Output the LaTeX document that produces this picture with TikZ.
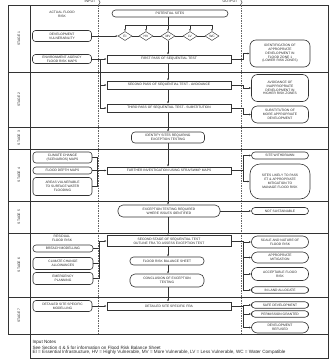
\documentclass[tikz,border=0pt]{standalone}
\usepackage{fontspec}
\setmainfont{Liberation Sans}
\usetikzlibrary{shapes.geometric,arrows.meta,decorations.pathreplacing}
\begin{document}
\begin{tikzpicture}[x=1pt,y=-1pt,
  every node/.style={font=\fontsize{3.3}{3.8}\selectfont, inner sep=0.4pt, align=center, text=black!85},
  frameline/.style={line width=0.6pt, draw=black!80},
  divline/.style={line width=0.35pt, draw=black!60, dashed, dash pattern=on 1.5pt off 1pt},
  conn/.style={line width=0.45pt, draw=black!80},
  arr/.style={conn, -{Latex[length=2pt,width=1.8pt]}},
  ibox/.style={draw=black!80, line width=0.6pt, rounded corners=3pt},
  pbox/.style={draw=black!80, line width=0.6pt},
  pill/.style={draw=black!80, line width=0.6pt, rounded corners=3.5pt},
  obox/.style={draw=black!80, line width=0.6pt, rounded corners=6pt},
  dia/.style={draw=black!80, line width=0.45pt, diamond, aspect=1.4, inner sep=0pt, minimum width=14pt, minimum height=9pt},
  stagelbl/.style={rotate=90, font=\fontsize{3.4}{4}\selectfont},
  foot/.style={anchor=west, font=\fontsize{4.6}{5}\selectfont}
]
\useasboundingbox (0,0) rectangle (333,360);

% ---------- header ----------
\node[anchor=east, font=\fontsize{3.6}{4}\selectfont] (hin) at (96,1.6) {INPUT};
\node[anchor=east, font=\fontsize{3.6}{4}\selectfont] (hout) at (238,1.6) {OUTPUT};
\draw[conn, decorate, decoration={brace, amplitude=1.6pt}] (98.5,-0.5) -- (98.5,5);
\draw[conn, decorate, decoration={brace, amplitude=1.6pt}] (240.5,-0.5) -- (240.5,5);

% ---------- frame and grid ----------
\draw[frameline] (8,5) rectangle (328,334);
\draw[frameline] (30,5) -- (30,334);
\draw[divline] (98,5) -- (98,334);
\draw[divline] (241,5) -- (241,334);
\foreach \yy in {72,127,149,201,233,297} {\draw[frameline] (8,\yy) -- (328,\yy);}

% stage labels
\node[stagelbl] (s1) at (19,38.5) {STAGE 1};
\node[stagelbl] (s2) at (19,99.5) {STAGE 2};
\node[stagelbl] (s3) at (19,138) {STAGE 3};
\node[stagelbl] (s4) at (19,175) {STAGE 4};
\node[stagelbl] (s5) at (19,217) {STAGE 5};
\node[stagelbl] (s6) at (19,265) {STAGE 6};
\node[stagelbl] (s7) at (19,315.5) {STAGE 7};

% ---------- stage 1 ----------
\node (afr) at (62,14) {ACTUAL FLOOD\\RISK};
\node[ibox, minimum width=59pt, minimum height=11pt] (dv) at (62,36) {DEVELOPMENT\\VULNERABILITY};
\node[ibox, minimum width=59pt, minimum height=9pt] (ea) at (62,59) {ENVIRONMENT AGENCY\\FLOOD RISK MAPS};
\node[pill, minimum width=116pt, minimum height=7pt] (ps) at (170,13.5) {POTENTIAL SITES};
\coordinate (bar) at (168,25);
\node[dia] (d1) at (125,36) {EI};
\node[dia] (d2) at (146,36) {HV};
\node[dia] (d3) at (168,36) {MV};
\node[dia] (d4) at (190,36) {LV};
\node[dia] (d5) at (212,36) {WC};
\draw[conn] (ps.south -| bar) -- (bar);
\draw[conn] (125,25) -- (212,25);
\foreach \d in {d1,d2,d3,d4,d5} {\draw[arr] (\d.north |- bar) -- (\d.north);}
\draw[conn] (d1) -- (d2) (d2) -- (d3) (d3) -- (d4) (d4) -- (d5);
\draw[arr] (dv.east) -- (d1.west);
\node[pbox, minimum width=124pt, minimum height=8pt] (fp) at (169,59) {FIRST PASS OF SEQUENTIAL TEST};
\draw[arr] (d3.south) -- (fp.north -| d3);
\draw[arr] (ea.east) -- (fp.west);
\node[obox, minimum width=60pt, minimum height=27pt] (o1) at (280,53.5) {IDENTIFICATION OF\\APPROPRIATE\\DEVELOPMENT IN\\FLOOD ZONE 1\\(LOWER RISK ZONES)};
\draw[arr] (fp.east) -- (243,59) |- (o1.west);

% ---------- stage 2 ----------
\node[pbox, minimum width=124pt, minimum height=8pt] (sp) at (169,85) {SECOND PASS OF SEQUENTIAL TEST - AVOIDANCE};
\node[pbox, minimum width=124pt, minimum height=8pt] (tp) at (169,108) {THIRD PASS OF SEQUENTIAL TEST - SUBSTITUTION};
\coordinate (j1) at (100,59);
\draw[arr] (j1) |- (sp.west);
\draw[arr] (j1) |- (tp.west);
\draw[arr] (fp.south -| d3) -- (sp.north -| d3);
\draw[arr] (sp.south -| d3) -- (tp.north -| d3);
\node[obox, minimum width=57pt, minimum height=27pt] (o2) at (280,88) {AVOIDANCE OF\\INAPPROPRIATE\\DEVELOPMENT IN\\HIGHER RISK ZONES};
\node[obox, minimum width=57pt, minimum height=17pt] (o3) at (280,114.5) {SUBSTITUTION OF\\MORE APPROPRIATE\\DEVELOPMENT};
\draw[arr] (sp.east) -- (243,85) |- (o2.west);
\draw[arr] (tp.east) -- (243,108) |- (o3.west);

% ---------- stage 3 ----------
\node[pill, minimum width=73pt, minimum height=11pt] (ie) at (168,137.5) {IDENTIFY SITES REQUIRING\\EXCEPTION TESTING};
\draw[arr] (tp.south -| d3) -- (ie.north -| d3);

% ---------- stage 4 ----------
\node[ibox, minimum width=59pt, minimum height=11pt] (cc) at (62.5,157.5) {CLIMATE CHANGE\\(SCENARIOS) MAPS};
\node[ibox, minimum width=59pt, minimum height=7pt] (fd) at (62.5,170.5) {FLOOD DEPTH MAPS};
\node[ibox, minimum width=59pt, minimum height=18pt] (av) at (62.5,186.5) {AREAS VULNERABLE\\TO SURFACE WATER\\FLOODING};
\node[pbox, minimum width=124pt, minimum height=7pt] (fi) at (169,170.5) {FURTHER INVESTIGATION USING SFRA/SWMP MAPS};
\coordinate (b4) at (97,170.5);
\draw[conn] (cc.east) -- (97,157.5) -- (97,186.5) -- (av.east);
\draw[conn] (fd.east) -- (b4);
\draw[arr] (b4) -- (fi.west);
\draw[arr] (ie.south -| d3) -- (fi.north -| d3);
\node[pill, minimum width=57pt, minimum height=7pt] (sw) at (280,155.5) {SITE WITHDRAWN};
\node[obox, rounded corners=10pt, minimum width=60pt, minimum height=35pt] (sl) at (280,181.5) {SITES LIKELY TO PASS\\ET \& APPROPRIATE\\MITIGATION TO\\MANAGE FLOOD RISK};
\coordinate (b4o) at (243,170.5);
\draw[conn] (fi.east) -- (b4o);
\draw[arr] (b4o) |- (sw.west);
\draw[arr] (b4o) |- (sl.west);

% ---------- stage 5 ----------
\node[pill, rounded corners=5pt, minimum width=102pt, minimum height=12pt] (et) at (169,211) {EXCEPTION TESTING REQUIRED\\WHERE ISSUES IDENTIFIED};
\draw[arr] (fi.south -| d3) -- (et.north -| d3);
\node[pill, minimum width=57pt, minimum height=7pt] (ns) at (280,211) {NOT SUSTAINABLE};
\draw[arr] (et.east) -- (ns.west);

% ---------- stage 6 ----------
\node (rfr) at (62,238) {RESIDUAL\\FLOOD RISK};
\node[ibox, minimum width=60pt, minimum height=7pt] (br) at (63,248.5) {BREACH MODELLING};
\node[ibox, minimum width=60pt, minimum height=12pt] (cca) at (63,263.5) {CLIMATE CHANGE\\ALLOWANCES};
\node[ibox, minimum width=60pt, minimum height=12pt] (ep) at (63,278.5) {EMERGENCY\\PLANNING};
\node[pbox, minimum width=124pt, minimum height=11pt] (sf) at (169,241) {SECOND STAGE OF SEQUENTIAL TEST\\OUTLINE FRA TO ASSESS EXCEPTION TEST};
\coordinate (b6) at (99.5,248.5);
\draw[conn] (br.east) -- (b6) -- (99.5,278.5) -- (ep.east);
\draw[conn] (cca.east) -- (99.5,263.5);
\draw[arr] (b6) |- (sf.west);
\draw[arr] (et.south -| d3) -- (sf.north -| d3);
\node[pill, minimum width=74pt, minimum height=8pt] (bs) at (167,261) {FLOOD RISK BALANCE SHEET};
\node[pill, rounded corners=5pt, minimum width=74pt, minimum height=13pt] (ce) at (167,280.5) {CONCLUSION OF EXCEPTION\\TESTING};
\draw[arr] (sf.south -| d3) -- (bs.north -| d3);
\draw[arr] (bs.south -| d3) -- (ce.north -| d3);
\node[obox, minimum width=57pt, minimum height=12pt] (sn) at (280,242) {SCALE AND NATURE OF\\FLOOD RISK};
\node[obox, minimum width=57pt, minimum height=11pt] (am) at (280,257.5) {APPROPRIATE\\MITIGATION};
\node[obox, minimum width=57pt, minimum height=13pt] (af) at (280,274) {ACCEPTABLE FLOOD\\RISK};
\node[pill, minimum width=57pt, minimum height=6.5pt] (la) at (280,290) {IN LAND ALLOCATE};
\coordinate (b6o) at (243,241);
\draw[conn] (sf.east |- b6o) -- (b6o);
\draw[arr] (b6o) |- (sn.west);
\draw[arr] (b6o) |- (am.west);
\draw[arr] (b6o) |- (af.west);
\draw[arr] (b6o) |- (la.west);

% ---------- stage 7 ----------
\node[ibox, minimum width=59pt, minimum height=11pt] (dm) at (62.5,306) {DETAILED SITE SPECIFIC\\MODELLING};
\node[pbox, minimum width=124pt, minimum height=8pt] (ds) at (169,306) {DETAILED SITE SPECIFIC FRA};
\draw[arr] (dm.east) -- (ds.west);
\draw[arr] (ce.south -| d3) -- (ds.north -| d3);
\node[pill, minimum width=57pt, minimum height=6.5pt] (sd) at (280,305) {SAFE DEVELOPMENT};
\node[pill, minimum width=57pt, minimum height=6.5pt] (pg) at (280,314) {PERMISSION GRANTED};
\node[obox, minimum width=57pt, minimum height=11pt] (dr) at (280,327.5) {DEVELOPMENT\\REFUSED};
\coordinate (b7o) at (243,306);
\draw[conn] (ds.east) -- (b7o);
\draw[arr] (b7o) |- (sd.west);
\draw[arr] (b7o) |- (pg.west);
\draw[arr] (b7o) |- (dr.west);

% ---------- footer ----------
\draw[frameline, line width=0.4pt] (30,334) -- (30,358) -- (328,358) -- (328,334);
\node[foot] (f1) at (32,342.5) {Input Notes};
\node[foot] (f2) at (32,347.5) {See Section 4 \& 5 for information on Flood Risk Balance Sheet};
\node[foot] (f3) at (32,352.5) {EI = Essential Infrastructure, HV = Highly Vulnerable, MV = More Vulnerable, LV = Less Vulnerable, WC = Water Compatible};
\end{tikzpicture}
\end{document}
